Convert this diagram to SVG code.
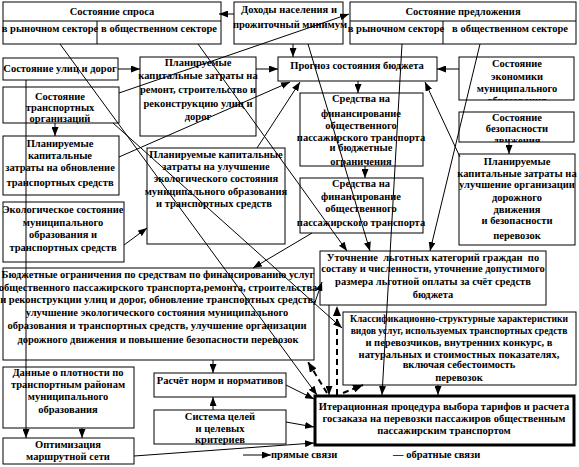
<svg xmlns="http://www.w3.org/2000/svg" width="579" height="467" viewBox="0 0 579 467">
<style>
.b{fill:#fff;stroke:#000;stroke-width:1}
.bt{fill:#fff;stroke:#000;stroke-width:3}
.l{stroke:#000;stroke-width:1;fill:none}
.t{font-family:"Liberation Serif","Times New Roman",serif;font-weight:bold;font-size:10.5px;fill:#000}
.s{font-size:9.6px}
.m{text-anchor:middle}
.c{stroke:#000;stroke-width:1;fill:none;marker-end:url(#a)}
.d{stroke:#000;stroke-width:2;stroke-dasharray:6 4;fill:none;marker-end:url(#ad)}
</style>
<defs>
<marker id="a" markerWidth="9" markerHeight="7" refX="9" refY="3.5" orient="auto" markerUnits="userSpaceOnUse"><path d="M0,0L9,3.5L0,7Z" fill="#000"/></marker>
<marker id="ad" markerWidth="10" markerHeight="8" refX="10" refY="4" orient="auto" markerUnits="userSpaceOnUse"><path d="M0,0L10,4L0,8Z" fill="#000"/></marker>
<clipPath id="clipEco"><rect x="459" y="57" width="115" height="43"/></clipPath>
<clipPath id="clipSafe"><rect x="459" y="112" width="115" height="30"/></clipPath>
</defs>
<rect width="579" height="467" fill="#fff"/>

<g id="demand">
<rect class="b" x="3" y="2" width="218" height="42"/>
<path class="l" d="M3,21H221M97,21V44"/>
<text class="t m" x="112" y="15">Состояние спроса</text>
<text class="t m" x="50" y="32">в рыночном секторе</text>
<text class="t m" x="159" y="32">в общественном секторе</text>
</g>

<g id="income">
<rect class="b" x="234" y="2" width="109" height="42"/>
<text class="t m" x="289" y="13">Доходы населения и</text>
<text class="t m" x="290" y="28">прожиточный минимум</text>
</g>

<g id="supply">
<rect class="b" x="350" y="2" width="226" height="42"/>
<path class="l" d="M350,21H576M443,21V44"/>
<text class="t m" x="463" y="15">Состояние предложения</text>
<text class="t m" x="396" y="32">в рыночном секторе</text>
<text class="t m" x="510" y="32">в общественном секторе</text>
</g>

<g id="roads">
<rect class="b" x="3" y="58" width="115" height="22"/>
<text class="t m" x="60" y="72">Состояние улиц и дорог</text>
</g>

<g id="capex-roads">
<rect class="b" x="140" y="57" width="116" height="79"/>
<text class="t m" x="198" y="66">Планируемые</text>
<text class="t m" x="198" y="79">капитальные затраты на</text>
<text class="t m" x="198" y="93">ремонт, строительство и</text>
<text class="t m" x="198" y="107">реконструкцию улиц и</text>
<text class="t m" x="198" y="120">дорог</text>
</g>

<g id="budget-forecast">
<rect class="b" x="278" y="57" width="159" height="24"/>
<text class="t m" x="357" y="69">Прогноз состояния бюджета</text>
</g>

<g id="economy">
<rect class="b" x="459" y="57" width="115" height="43"/>
<g clip-path="url(#clipEco)">
<text class="t m" x="517" y="67">Состояние</text>
<text class="t m" x="517" y="80">экономики</text>
<text class="t m" x="517" y="92">муниципального</text>
<text class="t m" x="517" y="104">образования</text>
</g>
</g>

<g id="transport-orgs">
<rect class="b" x="3" y="87" width="116" height="36"/>
<text class="t m" x="60" y="100">Состояние</text>
<text class="t m" x="60" y="111">транспортных</text>
<text class="t m" x="60" y="122">организаций</text>
</g>

<g id="capex-fleet">
<rect class="b" x="3" y="136" width="116" height="59"/>
<text class="t m" x="60" y="147">Планируемые</text>
<text class="t m" x="60" y="159">капитальные</text>
<text class="t m" x="60" y="171">затраты на обновление</text>
<text class="t m" x="60" y="186">транспортных средств</text>
</g>

<g id="ecology">
<rect class="b" x="3" y="202" width="121" height="60"/>
<text class="t m" x="63" y="213">Экологическое состояние</text>
<text class="t m" x="63" y="226">муниципального</text>
<text class="t m" x="63" y="238">образования и</text>
<text class="t m" x="63" y="251">транспортных средств</text>
</g>

<g id="capex-ecology">
<rect class="b" x="147" y="148" width="138" height="96"/>
<text class="t m" x="216" y="158">Планируемые капитальные</text>
<text class="t m" x="216" y="170">затраты на улучшение</text>
<text class="t m" x="216" y="182">экологического состояния</text>
<text class="t m" x="216" y="195">муниципального образования</text>
<text class="t m" x="214" y="207">и транспортных средств</text>
</g>

<g id="funds-limits">
<rect class="b" x="300" y="93" width="123" height="73"/>
<text class="t m" x="361" y="102">Средства на</text>
<text class="t m" x="361" y="117">финансирование</text>
<text class="t m" x="361" y="129">общественного</text>
<text class="t m" x="361" y="141">пассажирского транспорта</text>
<text class="t m" x="361" y="151">и бюджетные</text>
<text class="t m" x="361" y="165">ограничения</text>
</g>

<g id="funds">
<rect class="b" x="300" y="178" width="123" height="55"/>
<text class="t m" x="361" y="187">Средства на</text>
<text class="t m" x="361" y="200">финансирование</text>
<text class="t m" x="361" y="212">общественного</text>
<text class="t m" x="361" y="226">пассажирского транспорта</text>
</g>

<g id="safety">
<rect class="b" x="459" y="112" width="115" height="30"/>
<g clip-path="url(#clipSafe)">
<text class="t m" x="517" y="121">Состояние</text>
<text class="t m" x="517" y="132">безопасности</text>
<text class="t m" x="517" y="144">движения</text>
</g>
</g>

<g id="capex-safety">
<rect class="b" x="459" y="154" width="116" height="91"/>
<text class="t m" x="517" y="165">Планируемые</text>
<text class="t m" x="517" y="177">капитальные затраты на</text>
<text class="t m" x="517" y="188">улучшение организации</text>
<text class="t m" x="517" y="201">дорожного</text>
<text class="t m" x="517" y="213">движения</text>
<text class="t m" x="517" y="224">и безопасности</text>
<text class="t m" x="517" y="239">перевозок</text>
</g>

<g id="privileges">
<rect class="b" x="320" y="251" width="226" height="54"/>
<text class="t m" x="433" y="261" xml:space="preserve">Уточнение  льготных категорий граждан  по</text>
<text class="t m" x="433" y="272">составу и численности, уточнение допустимого</text>
<text class="t m" x="433" y="285">размера льготной оплаты за счёт средств</text>
<text class="t m" x="433" y="298">бюджета</text>
</g>

<g id="budget-limits">
<rect class="b" x="3" y="268" width="311" height="92"/>
<text class="t m" x="158" y="278">Бюджетные ограничения по средствам по финансированию услуг</text>
<text class="t m" x="158" y="291">общественного пассажирского транспорта,ремонта, строительства</text>
<text class="t m" x="158" y="303">и реконструкции улиц и дорог, обновление транспортных средств,</text>
<text class="t m" x="157" y="316">улучшение экологического состояния муниципального</text>
<text class="t m" x="157" y="329">образования и транспортных средств, улучшение организации</text>
<text class="t m" x="158" y="343">дорожного движения и повышение безопасности перевозок</text>
</g>

<g id="density">
<rect class="b" x="3" y="367" width="131" height="61"/>
<text class="t m" x="68" y="376">Данные о плотности по</text>
<text class="t m" x="68" y="388">транспортным районам</text>
<text class="t m" x="68" y="400">муниципального</text>
<text class="t m" x="68" y="413">образования</text>
</g>

<g id="route-network">
<rect class="b" x="3" y="438" width="131" height="26"/>
<text class="t m" x="68" y="448">Оптимизация</text>
<text class="t m" x="68" y="460">маршрутной сети</text>
</g>

<g id="norms">
<rect class="b" x="154" y="373" width="132" height="24"/>
<text class="t m" x="220" y="384">Расчёт норм и нормативов</text>
</g>

<g id="goals">
<rect class="b" x="154" y="410" width="132" height="34"/>
<text class="t m" x="220" y="420">Система целей</text>
<text class="t m" x="220" y="432">и целевых</text>
<text class="t m" x="220" y="443">критериев</text>
</g>

<g id="classification">
<rect class="b" x="343" y="312" width="233" height="73"/>
<text class="t s m" x="459" y="322">Классификационно-структурные характеристики</text>
<text class="t s m" x="459" y="334">видов услуг, используемых транспортных средств</text>
<text class="t m" x="459" y="346">и перевозчиков, внутренних конкурс, в</text>
<text class="t m" x="459" y="358">натуральных и стоимостных показателях,</text>
<text class="t m" x="459" y="368">включая себестоимость</text>
<text class="t m" x="459" y="381">перевозок</text>
</g>

<g id="iteration">
<rect class="bt" x="315" y="396" width="259" height="49"/>
<text class="t m" x="444" y="410">Итерационная процедура выбора тарифов и расчета</text>
<text class="t m" x="444" y="422">госзаказа на перевозки пассажиров общественным</text>
<text class="t m" x="444" y="434">пассажирским транспортом</text>
</g>

<g id="connectors">
<path class="c" d="M234,14H219"/>
<path class="c" d="M119,93L349,14"/>
<path class="c" d="M293,44V57"/>
<path class="c" d="M308,44L370,251"/>
<path class="c" d="M198,44L347,251"/>
<path class="c" d="M60,44L317,395"/>
<path class="c" d="M113,123L342,328"/>
<path class="c" d="M118,69H140"/>
<path class="c" d="M256,69H278"/>
<path class="c" d="M459,69H437"/>
<path class="c" d="M358,81V93"/>
<path class="c" d="M365,166V178"/>
<path class="c" d="M312,233L253,268"/>
<path class="c" d="M314,305L322,282"/>
<path class="c" d="M55,123V136"/>
<path class="c" d="M26,80V438"/>
<path class="c" d="M82,428V438"/>
<path class="c" d="M134,456L314,443"/>
<path class="c" d="M286,385L314,399"/>
<path class="c" d="M286,422L314,427"/>
<path class="c" d="M213,410V397"/>
<path class="c" d="M213,360V373"/>
<path class="c" d="M329,305V395"/>
<path class="c" d="M438,385V395"/>
<path class="c" d="M402,44L382,395"/>
<path class="c" d="M480,44L430,251"/>
<path class="c" d="M460,157L425,82"/>
<path class="c" d="M509,142V154"/>
<path class="c" d="M119,157L290,82"/>
<path class="c" d="M257,148L300,82"/>
<path class="c" d="M124,245L147,228"/>
<path class="d" d="M327,393L308,362"/>
<path class="d" d="M337,395V306"/>
<path class="d" d="M343,393L363,385"/>
</g>

<g id="legend">
<path class="c" d="M243,455H271"/>
<text class="t" x="271" y="458">прямые связи</text>
<text class="t" x="393" y="458">— обратные связи</text>
</g>
</svg>
